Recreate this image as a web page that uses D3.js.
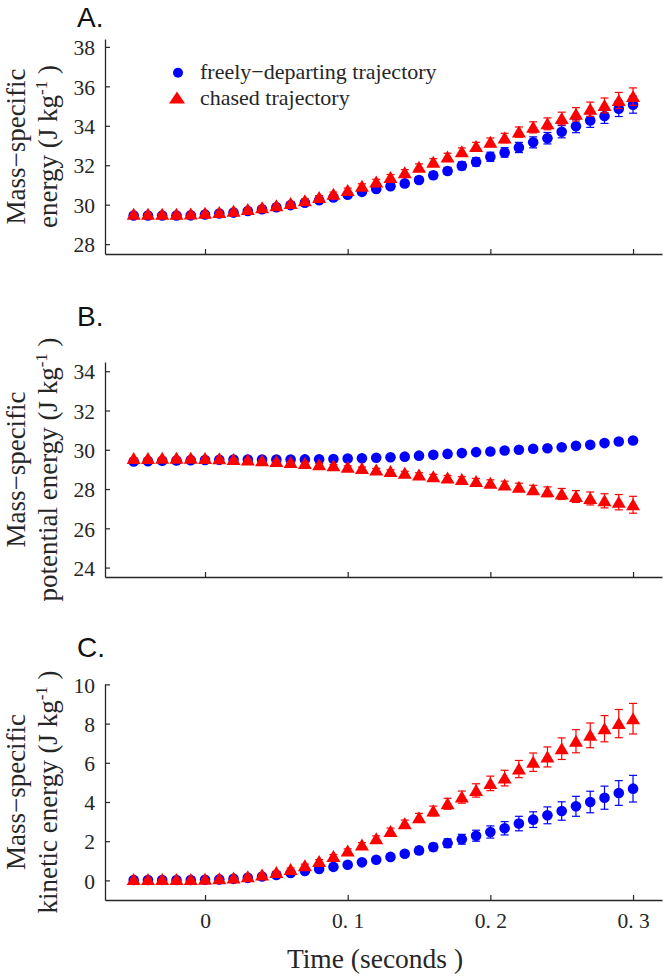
<!DOCTYPE html>
<html>
<head>
<meta charset="utf-8">
<script src="https://cdn.jsdelivr.net/npm/d3@7/dist/d3.min.js"></script>
<style>
  html, body { margin: 0; padding: 0; background: #fff; }
  svg { display: block; }
</style>
</head>
<body>
<svg id="chart" width="666" height="977"></svg>
<script>
// ---------------- DATA ----------------
const times = [-0.05, -0.04, -0.03, -0.02, -0.01, 0.00, 0.01, 0.02, 0.03, 0.04, 0.05, 0.06,
  0.07, 0.08, 0.09, 0.10, 0.11, 0.12, 0.13, 0.14, 0.15, 0.16, 0.17, 0.18, 0.19, 0.20,
  0.21, 0.22, 0.23, 0.24, 0.25, 0.26, 0.27, 0.28, 0.29, 0.30];

const seriesNames = ["freely\u2212departing trajectory", "chased trajectory"];

const xTicks = [0, 0.1, 0.2, 0.3];
const xTickLabels = ["0", "0. 1", "0. 2", "0. 3"];

// Panel A: total mass-specific energy
const freeTotal = [29.45, 29.45, 29.45, 29.45, 29.46, 29.50, 29.55, 29.60, 29.68, 29.77, 29.87, 29.98,
  30.10, 30.23, 30.37, 30.51, 30.65, 30.80, 30.94, 31.08, 31.25, 31.49, 31.71, 31.97, 32.17, 32.43,
  32.65, 32.90, 33.16, 33.37, 33.70, 33.98, 34.27, 34.49, 34.87, 35.07];
const freeTotalErr = [0.04, 0.04, 0.04, 0.04, 0.04, 0.04, 0.05, 0.05, 0.06, 0.06, 0.07, 0.08,
  0.08, 0.09, 0.10, 0.11, 0.12, 0.13, 0.14, 0.15, 0.16, 0.17, 0.18, 0.20, 0.21, 0.23,
  0.24, 0.26, 0.28, 0.29, 0.31, 0.33, 0.35, 0.37, 0.40, 0.43];
const chaseTotal = [29.52, 29.52, 29.52, 29.52, 29.53, 29.56, 29.61, 29.67, 29.75, 29.84, 29.94, 30.06,
  30.20, 30.36, 30.53, 30.72, 30.93, 31.15, 31.38, 31.62, 31.90, 32.15, 32.42, 32.68, 32.95, 33.16,
  33.38, 33.68, 33.92, 34.10, 34.37, 34.58, 34.84, 35.03, 35.28, 35.48];
const chaseTotalErr = [0.04, 0.04, 0.04, 0.04, 0.04, 0.04, 0.05, 0.05, 0.06, 0.07, 0.07, 0.08,
  0.09, 0.10, 0.11, 0.12, 0.13, 0.14, 0.15, 0.16, 0.17, 0.18, 0.19, 0.20, 0.21, 0.22,
  0.24, 0.26, 0.28, 0.30, 0.32, 0.34, 0.36, 0.38, 0.41, 0.44];

// Panel B: potential energy
const freePot = [29.40, 29.42, 29.44, 29.45, 29.47, 29.48, 29.49, 29.50, 29.50, 29.50, 29.50, 29.50,
  29.51, 29.52, 29.53, 29.55, 29.57, 29.59, 29.62, 29.65, 29.70, 29.74, 29.79, 29.83, 29.88, 29.91,
  29.96, 30.00, 30.05, 30.08, 30.13, 30.20, 30.25, 30.34, 30.42, 30.47];
const freePotErr = [0.03, 0.03, 0.03, 0.03, 0.03, 0.03, 0.03, 0.03, 0.03, 0.03, 0.03, 0.03,
  0.04, 0.04, 0.04, 0.05, 0.05, 0.05, 0.05, 0.06, 0.06, 0.06, 0.07, 0.07, 0.07, 0.08,
  0.08, 0.08, 0.09, 0.09, 0.10, 0.10, 0.11, 0.12, 0.13, 0.14];
const chasePot = [29.55, 29.56, 29.57, 29.57, 29.57, 29.56, 29.54, 29.51, 29.48, 29.44, 29.40, 29.35,
  29.30, 29.24, 29.18, 29.11, 29.04, 28.97, 28.89, 28.80, 28.72, 28.63, 28.56, 28.49, 28.38, 28.29,
  28.21, 28.09, 27.96, 27.86, 27.75, 27.62, 27.52, 27.40, 27.33, 27.20];
const chasePotErr = [0.03, 0.03, 0.03, 0.03, 0.03, 0.03, 0.03, 0.04, 0.04, 0.04, 0.05, 0.05,
  0.06, 0.06, 0.07, 0.07, 0.08, 0.08, 0.09, 0.10, 0.11, 0.12, 0.13, 0.14, 0.16, 0.18,
  0.19, 0.21, 0.23, 0.25, 0.28, 0.30, 0.33, 0.36, 0.39, 0.43];

// Panel C: kinetic energy
const freeKin = [0.02, 0.02, 0.02, 0.02, 0.02, 0.03, 0.05, 0.08, 0.13, 0.20, 0.28, 0.38,
  0.48, 0.58, 0.69, 0.80, 0.92, 1.05, 1.20, 1.36, 1.53, 1.70, 1.90, 2.10, 2.28, 2.47,
  2.66, 2.90, 3.10, 3.32, 3.54, 3.78, 4.00, 4.22, 4.46, 4.68];
const freeKinErr = [0.02, 0.02, 0.02, 0.02, 0.02, 0.02, 0.02, 0.02, 0.03, 0.03, 0.04, 0.04,
  0.05, 0.06, 0.07, 0.08, 0.09, 0.10, 0.12, 0.14, 0.17, 0.19, 0.22, 0.25, 0.28, 0.31,
  0.34, 0.37, 0.40, 0.43, 0.47, 0.51, 0.55, 0.59, 0.63, 0.68];
const chaseKin = [0.05, 0.05, 0.05, 0.05, 0.05, 0.06, 0.08, 0.12, 0.18, 0.27, 0.40, 0.56,
  0.75, 0.97, 1.22, 1.50, 1.80, 2.12, 2.50, 2.89, 3.20, 3.54, 3.91, 4.25, 4.59, 4.95,
  5.22, 5.68, 6.03, 6.30, 6.72, 7.10, 7.40, 7.74, 8.00, 8.25];
const chaseKinErr = [0.02, 0.02, 0.02, 0.02, 0.02, 0.02, 0.03, 0.03, 0.04, 0.05, 0.06, 0.07,
  0.08, 0.09, 0.10, 0.11, 0.13, 0.15, 0.17, 0.19, 0.22, 0.25, 0.28, 0.31, 0.34, 0.37,
  0.40, 0.44, 0.47, 0.51, 0.55, 0.59, 0.63, 0.67, 0.72, 0.78];

const yTicksA = [28, 30, 32, 34, 36, 38];
const yTicksB = [24, 26, 28, 30, 32, 34];
const yTicksC = [0, 2, 4, 6, 8, 10];

// ---------------- LAYOUT ----------------
const BLUE = "#0000ff", RED = "#ff0000", INK = "#262626";
const SERIF = "'Liberation Serif','Times New Roman',serif";
const SANS = "'Liberation Sans',Arial,sans-serif";
const axLeft = 105, axRight = 662;

const panels = [
  { letter: "A.", letterY: 27, top: 39, bottom: 254, domain: [27.5, 38.4], ticks: yTicksA,
    line2: "energy (J kg", free: freeTotal, freeErr: freeTotalErr, chase: chaseTotal, chaseErr: chaseTotalErr,
    legend: true, xlabels: false },
  { letter: "B.", letterY: 326, top: 362, bottom: 577, domain: [23.52, 34.47], ticks: yTicksB,
    line2: "potential energy (J kg", free: freePot, freeErr: freePotErr, chase: chasePot, chaseErr: chasePotErr,
    legend: false, xlabels: false },
  { letter: "C.", letterY: 657, top: 684, bottom: 900, domain: [-1, 10.02], ticks: yTicksC,
    line2: "kinetic energy (J kg", free: freeKin, freeErr: freeKinErr, chase: chaseKin, chaseErr: chaseKinErr,
    legend: false, xlabels: true }
];

const svg = d3.select("#chart");
const x = d3.scaleLinear().domain([-0.0701, 0.3203]).range([axLeft, axRight]);

const triPath = (w, h) => `M0,${-h / 2 - 0.5}L${w / 2},${h / 2 - 0.5}L${-w / 2},${h / 2 - 0.5}Z`;

panels.forEach(p => {
  const y = d3.scaleLinear().domain(p.domain).range([p.bottom, p.top]);
  const g = svg.append("g");

  // Panel letter
  g.append("text").attr("x", 77).attr("y", p.letterY)
    .attr("font-family", SANS).attr("font-size", 28).attr("fill", "#111").text(p.letter);

  // Y axis
  const yAxis = d3.axisLeft(y).tickValues(p.ticks).tickSizeInner(-5).tickSizeOuter(0).tickPadding(10)
    .tickFormat(d3.format("d"));
  const ya = g.append("g").attr("transform", `translate(${axLeft},0)`).call(yAxis);
  ya.select(".domain").attr("stroke", INK).attr("stroke-width", 1.3);
  ya.selectAll(".tick line").attr("stroke", INK).attr("stroke-width", 1.2);
  ya.selectAll(".tick text").attr("font-family", SERIF).attr("font-size", 21.5).attr("fill", INK).attr("dy", "0.36em");

  // X axis
  const xAxis = d3.axisBottom(x).tickValues(xTicks).tickSizeInner(-5).tickSizeOuter(0).tickPadding(13)
    .tickFormat((d, i) => p.xlabels ? xTickLabels[i] : "");
  const xa = g.append("g").attr("transform", `translate(0,${p.bottom})`).call(xAxis);
  xa.select(".domain").attr("stroke", INK).attr("stroke-width", 1.3);
  xa.selectAll(".tick line").attr("stroke", INK).attr("stroke-width", 1.2);
  xa.selectAll(".tick text").attr("font-family", SERIF).attr("font-size", 21.5).attr("fill", INK);

  // Y label (two lines, rotated)
  const cy = (p.top + p.bottom) / 2;
  g.append("text").attr("transform", `translate(25,${cy}) rotate(-90)`)
    .attr("text-anchor", "middle").attr("font-family", SERIF).attr("font-size", 27).attr("fill", INK)
    .text("Mass\u2212specific");
  const t2 = g.append("text").attr("transform", `translate(57,${cy}) rotate(-90)`)
    .attr("text-anchor", "middle").attr("font-family", SERIF).attr("font-size", 27).attr("fill", INK);
  t2.append("tspan").text(p.line2);
  t2.append("tspan").attr("font-size", 17).attr("dy", -10).text("-1");
  t2.append("tspan").attr("dy", 10).text(" )");

  const drawSeries = (vals, errs, color, marker) => {
    const sg = g.append("g");
    times.forEach((t, i) => {
      const cx = x(t), v = vals[i], e = errs[i];
      const y1 = y(v - e), y2 = y(v + e);
      sg.append("line").attr("x1", cx).attr("x2", cx).attr("y1", y1).attr("y2", y2)
        .attr("stroke", color).attr("stroke-width", 1.2);
      [y1, y2].forEach(yy => sg.append("line").attr("x1", cx - 4).attr("x2", cx + 4)
        .attr("y1", yy).attr("y2", yy).attr("stroke", color).attr("stroke-width", 1.2));
    });
    times.forEach((t, i) => {
      if (marker === "circle") {
        sg.append("circle").attr("cx", x(t)).attr("cy", y(vals[i])).attr("r", 5.3).attr("fill", color);
      } else {
        sg.append("path").attr("d", triPath(14, 12))
          .attr("transform", `translate(${x(t)},${y(vals[i])})`).attr("fill", color);
      }
    });
  };
  drawSeries(p.free, p.freeErr, BLUE, "circle");
  drawSeries(p.chase, p.chaseErr, RED, "triangle");

  if (p.legend) {
    const lg = g.append("g");
    lg.append("circle").attr("cx", 178).attr("cy", 72.7).attr("r", 5).attr("fill", BLUE);
    lg.append("path").attr("d", triPath(16, 12)).attr("transform", "translate(177,98)").attr("fill", RED);
    lg.append("text").attr("x", 200).attr("y", 79).attr("font-family", SERIF).attr("font-size", 22)
      .attr("fill", INK).text(seriesNames[0]);
    lg.append("text").attr("x", 200).attr("y", 104.5).attr("font-family", SERIF).attr("font-size", 22)
      .attr("fill", INK).text(seriesNames[1]);
  }
});

// X title
svg.append("text").attr("x", 375).attr("y", 968).attr("text-anchor", "middle")
  .attr("font-family", SERIF).attr("font-size", 27.5).attr("fill", INK).text("Time (seconds )");
</script>
</body>
</html>
